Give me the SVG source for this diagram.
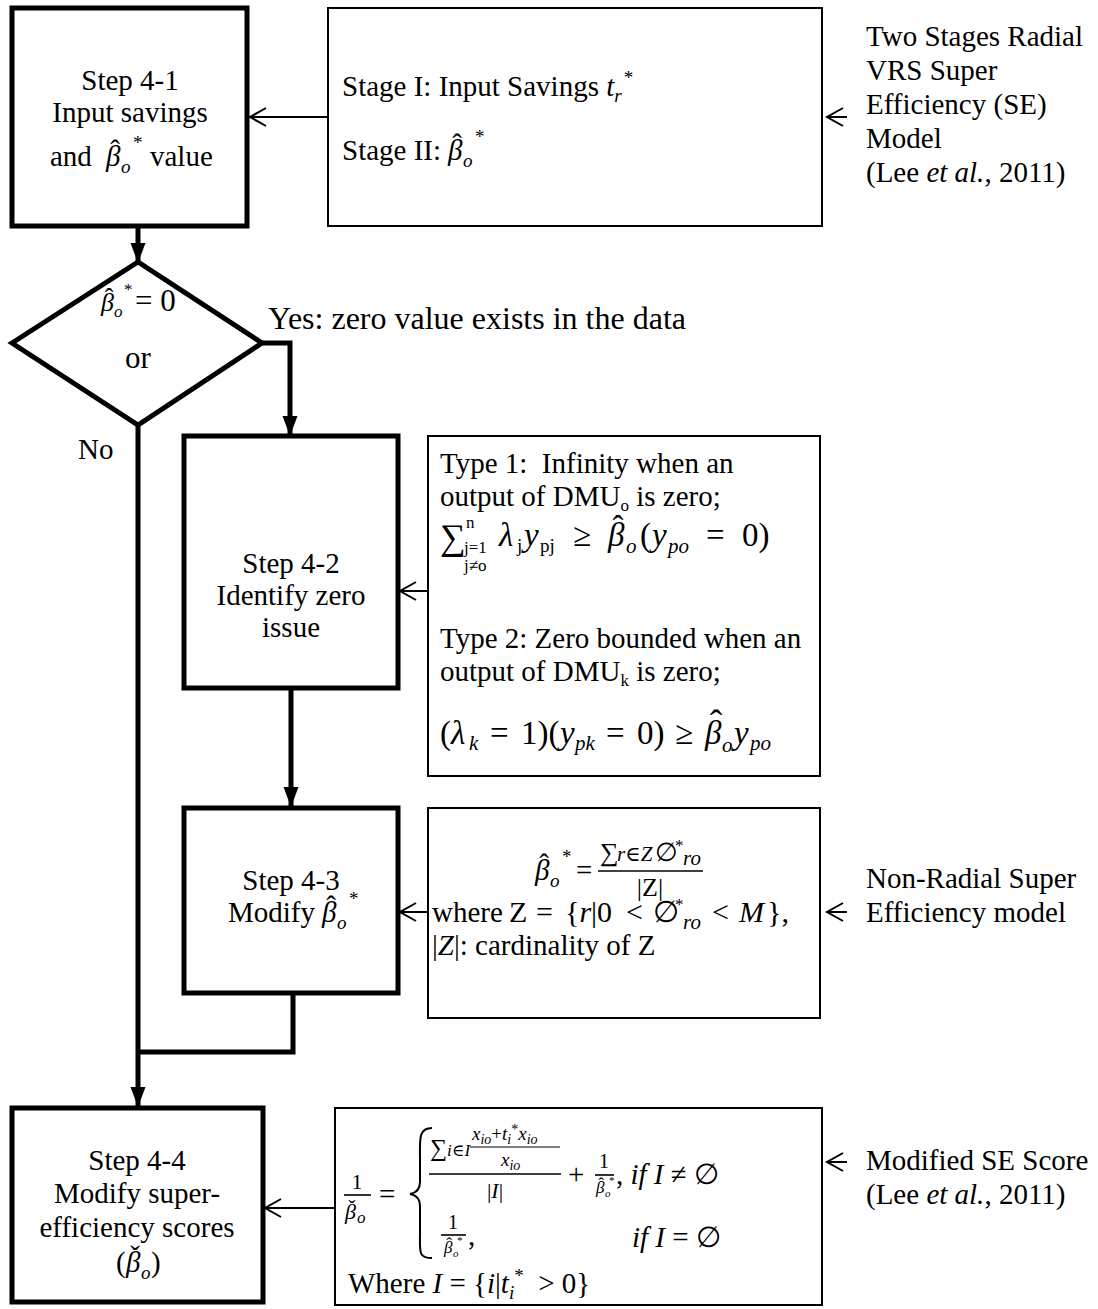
<svg xmlns="http://www.w3.org/2000/svg" width="1098" height="1309" viewBox="0 0 1098 1309">
<style>
text{font-family:"Liberation Serif","Times New Roman","DejaVu Serif",serif;font-size:29px;fill:#000}
.mi{font-style:italic}
.m33{font-size:33px}
.m30{font-size:30px}
.s21{font-size:21px}
.sm{font-size:19px}
.xs{font-size:17px}
.c{text-anchor:middle}
.hat{text-anchor:middle}
.thick{fill:#fff;stroke:#000;stroke-width:5}
.thin{fill:#fff;stroke:#000;stroke-width:2}
.conn{fill:none;stroke:#000;stroke-width:5}
.tconn{fill:none;stroke:#000;stroke-width:2}
.bar{stroke:#000;stroke-width:1.6}
</style>
<defs>
<marker id="fill" markerUnits="userSpaceOnUse" markerWidth="20" markerHeight="20" viewBox="0 0 20 20" refX="19" refY="10" orient="auto"><path d="M0,2.5 L20,10 L0,17.5 z" fill="#000"/></marker>
<marker id="open" markerUnits="userSpaceOnUse" markerWidth="22" markerHeight="22" viewBox="0 0 22 22" refX="19" refY="11" orient="auto"><path d="M3,2 L19,11 L3,20" fill="none" stroke="#000" stroke-width="2"/></marker>
</defs>

<g id="connectors">
<line class="tconn" x1="328" y1="117" x2="250" y2="117" marker-end="url(#open)"/>
<line class="tconn" x1="847" y1="117" x2="827" y2="117" marker-end="url(#open)"/>
<line class="conn" x1="138" y1="228" x2="138" y2="262" marker-end="url(#fill)"/>
<polyline class="conn" points="262,343 290,343 290,435" marker-end="url(#fill)"/>
<line class="conn" x1="138" y1="425" x2="138" y2="1106" marker-end="url(#fill)"/>
<line class="tconn" x1="428" y1="591" x2="400" y2="591" marker-end="url(#open)"/>
<line class="conn" x1="291" y1="690" x2="291" y2="806" marker-end="url(#fill)"/>
<line class="tconn" x1="428" y1="912" x2="400" y2="912" marker-end="url(#open)"/>
<line class="tconn" x1="847" y1="912" x2="827" y2="912" marker-end="url(#open)"/>
<polyline class="conn" points="293,993 293,1052 136,1052"/>
<line class="tconn" x1="335" y1="1208" x2="265" y2="1208" marker-end="url(#open)"/>
<line class="tconn" x1="847" y1="1162" x2="827" y2="1162" marker-end="url(#open)"/>
</g>

<g id="step41">
<rect class="thick" x="12" y="8" width="235" height="218"/>
<text class="c" x="130" y="90">Step 4-1</text>
<text class="c" x="130" y="122">Input savings</text>
<text x="50" y="166">and</text>
<text class="mi" x="106" y="166">&#946;</text>
<text class="hat" x="115" y="160">&#710;</text>
<text class="mi sm" x="121" y="173">o</text>
<text class="sm" x="133" y="149">*</text>
<text x="150" y="166">value</text>
</g>

<g id="stage-box">
<rect class="thin" x="328" y="8" width="494" height="218"/>
<text x="342" y="96">Stage I: Input Savings <tspan class="mi">t</tspan><tspan class="mi sm" dy="6">r</tspan><tspan class="sm" dx="2" dy="-18">*</tspan></text>
<text x="342" y="160">Stage II:</text>
<text class="mi" x="448" y="160">&#946;</text>
<text class="hat" x="457" y="154">&#710;</text>
<text class="mi sm" x="463" y="167">o</text>
<text class="sm" x="475" y="143">*</text>
</g>

<g id="label-two-stages">
<text x="866" y="46">Two Stages Radial</text>
<text x="866" y="80">VRS Super</text>
<text x="866" y="114">Efficiency (SE)</text>
<text x="866" y="148">Model</text>
<text x="866" y="182">(Lee <tspan class="mi">et al.</tspan>, 2011)</text>
</g>

<g id="decision">
<polygon class="thick" points="12,343 138,262 262,343 138,425"/>
<text class="mi" x="101" y="311" style="font-size:26px">&#946;</text>
<text class="hat" x="109" y="306" style="font-size:26px">&#710;</text>
<text class="mi xs" x="114" y="317">o</text>
<text class="xs" x="124" y="295">*</text>
<text x="135" y="311" style="font-size:31px">= 0</text>
<text class="c" x="138" y="368" style="font-size:31px">or</text>
</g>

<g id="labels-yes-no">
<text x="268" y="329" style="font-size:32px">Yes: zero value exists in the data</text>
<text x="78" y="459">No</text>
</g>

<g id="step42">
<rect class="thick" x="184" y="436" width="214" height="252"/>
<text class="c" x="291" y="573">Step 4-2</text>
<text class="c" x="291" y="605">Identify zero</text>
<text class="c" x="291" y="637">issue</text>
</g>

<g id="type-box">
<rect class="thin" x="428" y="436" width="392" height="340"/>
<text x="440" y="473">Type 1:&#160; Infinity when an</text>
<text x="440" y="506">output of DMU<tspan class="xs" dy="5">o</tspan><tspan dy="-5"> is zero;</tspan></text>
<text x="440" y="549" style="font-size:36px">&#8721;</text>
<text class="xs" x="466" y="528">n</text>
<text class="xs" x="464" y="553">j=1</text>
<text class="xs" x="464" y="571">j&#8800;o</text>
<text class="mi m33" x="499" y="546">&#955;</text>
<text class="sm" x="517" y="552">j</text>
<text class="mi m33" x="524" y="546">y</text>
<text class="sm" x="540" y="552">pj</text>
<text class="m33" x="573" y="546">&#8805;</text>
<text class="mi m33" x="608" y="546">&#946;</text>
<text class="hat m33" x="618" y="539">&#710;</text>
<text class="mi s21" x="626" y="553">o</text>
<text class="m33" x="640" y="546">(</text>
<text class="mi m33" x="652" y="546">y</text>
<text class="mi s21" x="668" y="553">po</text>
<text class="m33" x="706" y="546">=</text>
<text class="m33" x="742" y="546">0)</text>
<text x="440" y="648">Type 2: Zero bounded when an</text>
<text x="440" y="681">output of DMU<tspan class="xs" dy="5">k</tspan><tspan dy="-5"> is zero;</tspan></text>
<text class="m33" x="440" y="744">(</text>
<text class="mi m33" x="451" y="744">&#955;</text>
<text class="mi s21" x="469" y="750">k</text>
<text class="m33" x="490" y="744">=</text>
<text class="m33" x="521" y="744">1)(</text>
<text class="mi m33" x="560" y="744">y</text>
<text class="mi s21" x="575" y="750">pk</text>
<text class="m33" x="606" y="744">=</text>
<text class="m33" x="637" y="744">0)</text>
<text class="m33" x="675" y="744">&#8805;</text>
<text class="mi m33" x="705" y="744">&#946;</text>
<text class="hat" x="716" y="736" style="font-size:38px">&#710;</text>
<text class="mi s21" x="722" y="752">o</text>
<text class="mi m33" x="734" y="744">y</text>
<text class="mi s21" x="750" y="750">po</text>
</g>

<g id="step43">
<rect class="thick" x="184" y="808" width="214" height="185"/>
<text class="c" x="291" y="890">Step 4-3</text>
<text x="228" y="922">Modify</text>
<text class="mi" x="322" y="922">&#946;</text>
<text class="hat" x="331" y="916">&#710;</text>
<text class="mi sm" x="337" y="929">o</text>
<text class="sm" x="349" y="905">*</text>
</g>

<g id="nonradial-box">
<rect class="thin" x="428" y="808" width="392" height="210"/>
<text class="mi" x="535" y="880">&#946;</text>
<text class="hat" x="544" y="874">&#710;</text>
<text class="mi sm" x="550" y="887">o</text>
<text class="sm" x="562" y="863">*</text>
<text x="576" y="880">=</text>
<text x="600" y="861" style="font-size:26px">&#8721;</text>
<text x="617" y="861" style="font-size:21px"><tspan class="mi">r</tspan>&#8712;<tspan class="mi">Z</tspan></text>
<text x="655" y="861" style="font-size:26px">&#8709;</text>
<text class="xs" x="675" y="851">*</text>
<text class="mi" x="683" y="865" style="font-size:21px">ro</text>
<line class="bar" x1="598" y1="871" x2="703" y2="871"/>
<text class="c" x="650" y="896" style="font-size:26px">|Z|</text>
<text x="432" y="922">where</text>
<text class="m30" x="509" y="922">Z</text>
<text class="m30" x="536" y="922">=</text>
<text class="m30" x="565" y="922">{<tspan class="mi">r</tspan>|0</text>
<text class="m30" x="626" y="922">&lt;</text>
<text class="m30" x="653" y="922">&#8709;</text>
<text class="xs" x="675" y="910">*</text>
<text class="mi s21" x="683" y="929">ro</text>
<text class="m30" x="712" y="922">&lt;</text>
<text class="mi m30" x="739" y="922">M</text>
<text class="m30" x="767" y="922">},</text>
<text x="432" y="955">|<tspan class="mi">Z</tspan>|: cardinality of Z</text>
</g>

<g id="label-nonradial">
<text x="866" y="888">Non-Radial Super</text>
<text x="866" y="922">Efficiency model</text>
</g>

<g id="step44">
<rect class="thick" x="12" y="1108" width="251" height="194"/>
<text class="c" x="137" y="1170">Step 4-4</text>
<text class="c" x="137" y="1203">Modify super-</text>
<text class="c" x="137" y="1237">efficiency scores</text>
<text x="116" y="1272">(</text>
<text class="mi" x="126" y="1272">&#946;</text>
<text class="hat" x="135" y="1266">&#711;</text>
<text class="mi sm" x="141" y="1279">o</text>
<text x="151" y="1272">)</text>
</g>

<g id="score-box">
<rect class="thin" x="335" y="1108" width="487" height="197"/>
<text class="c" x="357" y="1189" style="font-size:22px">1</text>
<line class="bar" x1="344" y1="1195" x2="371" y2="1195"/>
<text class="mi" x="345" y="1219" style="font-size:22px">&#946;</text>
<text class="hat" x="352" y="1215" style="font-size:22px">&#711;</text>
<text class="mi xs" x="357" y="1223">o</text>
<text x="379" y="1204">=</text>
<path d="M432,1128 C418,1128 420,1140 420,1160 L420,1182 C420,1190 416,1193 410,1194 C416,1195 420,1198 420,1206 L420,1232 C420,1252 418,1258 432,1258" fill="none" stroke="#000" stroke-width="2"/>
<text x="430" y="1156" style="font-size:24px">&#8721;<tspan class="mi xs">i</tspan><tspan class="xs">&#8712;</tspan><tspan class="mi xs">I</tspan></text>
<text x="472" y="1140" class="sm"><tspan class="mi">x</tspan><tspan class="mi" style="font-size:14px" dy="4">io</tspan><tspan dy="-4">+</tspan><tspan class="mi">t</tspan><tspan class="mi" style="font-size:14px" dy="4">i</tspan><tspan style="font-size:14px" dy="-10">*</tspan><tspan class="mi" dy="6">x</tspan><tspan class="mi" style="font-size:14px" dy="4">io</tspan></text>
<line class="bar" x1="470" y1="1147" x2="560" y2="1147" style="stroke-width:1.2"/>
<text x="501" y="1166" class="sm"><tspan class="mi">x</tspan><tspan class="mi" style="font-size:14px" dy="4">io</tspan></text>
<line class="bar" x1="429" y1="1174" x2="561" y2="1174"/>
<text class="c" x="495" y="1198" style="font-size:22px">|<tspan class="mi">I</tspan>|</text>
<text x="568" y="1184">+</text>
<text class="c" x="604" y="1168" style="font-size:20px">1</text>
<line class="bar" x1="595" y1="1175" x2="614" y2="1175"/>
<text class="mi xs" x="596" y="1193">&#946;</text>
<text class="hat xs" x="601" y="1189">&#710;</text>
<text class="mi" x="605" y="1197" style="font-size:11px">o</text>
<text x="609" y="1184" style="font-size:11px">*</text>
<text x="616" y="1184">, <tspan class="mi">if I</tspan> &#8800; &#8709;</text>
<text class="c" x="453" y="1229" style="font-size:20px">1</text>
<line class="bar" x1="441" y1="1235" x2="466" y2="1235"/>
<text class="mi xs" x="444" y="1253">&#946;</text>
<text class="hat xs" x="449" y="1249">&#710;</text>
<text class="mi" x="453" y="1257" style="font-size:11px">o</text>
<text x="457" y="1244" style="font-size:11px">*</text>
<text x="468" y="1245">,</text>
<text x="632" y="1247"><tspan class="mi">if I</tspan> = &#8709;</text>
<text x="348" y="1293">Where <tspan class="mi">I</tspan> = {<tspan class="mi">i</tspan>|<tspan class="mi">t</tspan><tspan class="mi sm" dy="6">i</tspan><tspan class="sm" dy="-17">*</tspan><tspan dy="11">&#160; &gt; 0}</tspan></text>
</g>

<g id="label-modified">
<text x="866" y="1170">Modified SE Score</text>
<text x="866" y="1204">(Lee <tspan class="mi">et al.</tspan>, 2011)</text>
</g>
</svg>
